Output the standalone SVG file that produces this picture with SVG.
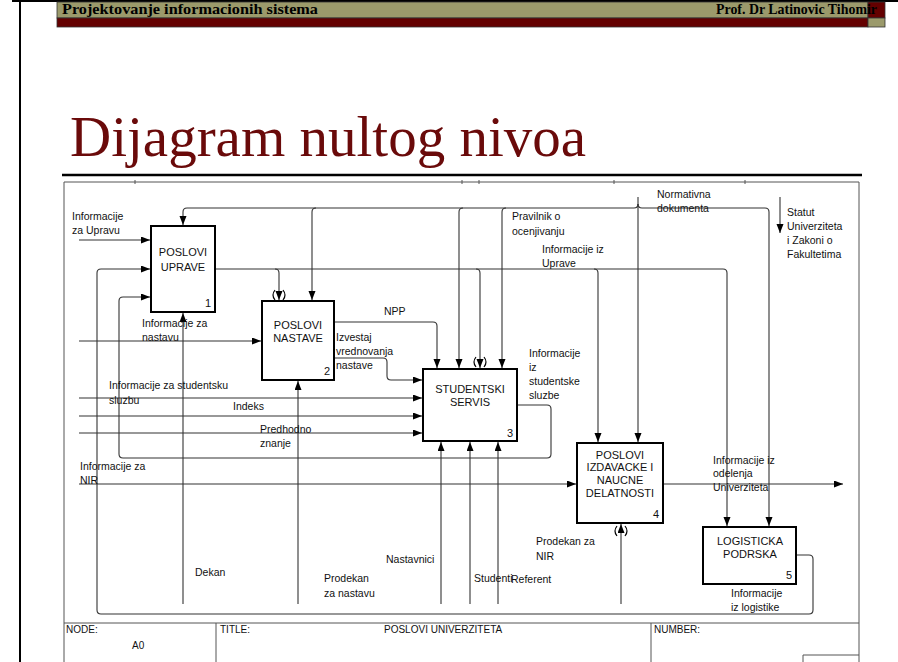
<svg xmlns="http://www.w3.org/2000/svg" width="898" height="662" viewBox="0 0 898 662">
  <defs>
    <marker id="arr" markerUnits="userSpaceOnUse" markerWidth="10" markerHeight="8" refX="9" refY="3.5" orient="auto">
      <path d="M0,0 L9,3.5 L0,7 z" fill="#000"/>
    </marker>
    <style>
      .hdr { font-family: "Liberation Serif", "Times New Roman", serif; font-weight: bold; font-size: 14px; fill: #000; }
      .title { font-family: "Liberation Serif", "Times New Roman", serif; font-size: 57px; fill: #6a0a0a; }
      .lbl { font-family: "Liberation Sans", Arial, sans-serif; font-size: 10.5px; fill: #111; }
      .box rect { fill: #fff; stroke: #000; stroke-width: 2; }
      .box text { font-family: "Liberation Sans", Arial, sans-serif; font-size: 11px; fill: #111; }
      .box .c { text-anchor: middle; }
      .box .n { text-anchor: end; }
      .con path { fill: none; stroke: #333; stroke-width: 1.1; }
      .con .a { marker-end: url(#arr); }
      .tun { fill: none; stroke: #000; stroke-width: 1.2; }
      .frame { fill: none; stroke: #555; stroke-width: 1; }
      .tbl { font-family: "Liberation Sans", Arial, sans-serif; font-size: 10px; fill: #111; }
    </style>
  </defs>

  <rect width="898" height="662" fill="#fff"/>

  <!-- slide border -->
  <path d="M12,1 H898 M20,1 V662" stroke="#000" stroke-width="2" fill="none"/>

  <!-- header band -->
  <g id="header">
    <rect x="57" y="2" width="811" height="16" fill="#9b9a6b" stroke="#333" stroke-width="0.8"/>
    <rect x="57" y="18" width="811" height="9" fill="#640000" stroke="#333" stroke-width="0.8"/>
    <rect x="868" y="2" width="17" height="16" fill="#640000" stroke="#333" stroke-width="0.8"/>
    <rect x="868" y="18" width="17" height="9" fill="#9b9a6b" stroke="#333" stroke-width="0.8"/>
    <text class="hdr" x="62" y="14" textLength="256" lengthAdjust="spacingAndGlyphs">Projektovanje informacionih sistema</text>
    <text class="hdr" x="716" y="14" textLength="161" lengthAdjust="spacingAndGlyphs">Prof. Dr Latinovic Tihomir</text>
  </g>

  <text class="title" x="70" y="156">Dijagram nultog nivoa</text>

  <!-- rule under the title -->
  <line x1="62" y1="175" x2="862" y2="175" stroke="#000" stroke-width="2.5"/>

  <!-- IDEF0 sheet frame -->
  <g id="frame">
    <path class="frame" d="M64,662 V182 H859 V662"/>
    <path class="frame" d="M135,180 V184 M462,180 V184 M479,180 V184 M614,180 V184 M745,180 V184"/>
    <path class="frame" d="M64,623 H859 M216,623 V662 M651,623 V662 M803,662 V655 H859"/>
    <text class="tbl" x="66" y="633">NODE:</text>
    <text class="tbl" x="132" y="649">A0</text>
    <text class="tbl" x="220" y="633">TITLE:</text>
    <text class="tbl" x="384" y="633">POSLOVI UNIVERZITETA</text>
    <text class="tbl" x="654" y="633">NUMBER:</text>
  </g>

  <!-- connectors -->
  <g id="connectors" class="con">
    <!-- Normativna dokumenta: trunk and branches -->
    <path class="a" d="M638,197 V442"/>
    <path class="a" d="M638,204 Q638,208 634,208 H187 Q183,208 183,212 V225"/>
    <path class="a" d="M638,204 Q638,208 642,208 H765 Q769,208 769,212 V526"/>
    <path class="a" d="M316,208 Q312,208 312,212 V300"/>
    <path class="a" d="M463,208 Q459,208 459,212 V368"/>
    <path class="a" d="M506,208 Q502,208 502,212 V368"/>

    <!-- Informacije iz Uprave -->
    <path class="a" d="M215,269 H723 Q727,269 727,273 V526"/>
    <path class="a" d="M275,269 Q279,269 279,273 V300"/>
    <path class="a" d="M476,269 Q480,269 480,273 V368"/>
    <path class="a" d="M594,269 Q598,269 598,273 V442"/>

    <!-- NPP -->
    <path class="a" d="M334,322 H433 Q437,322 437,326 V368"/>
    <!-- Izvestaj vrednovanja nastave -->
    <path class="a" d="M334,358 H383 Q387,358 387,362 V376 Q387,380 391,380 H422"/>

    <!-- external inputs -->
    <path class="a" d="M79,240 H150"/>
    <path class="a" d="M79,341 H261"/>
    <path class="a" d="M79,398 H422"/>
    <path class="a" d="M79,416 H422"/>
    <path class="a" d="M79,433 H422"/>
    <path class="a" d="M79,484 H576"/>

    <!-- Informacije iz studentske sluzbe (feedback to box 1) -->
    <path class="a" d="M517,405 H547 Q551,405 551,409 V454 Q551,458 547,458 H123 Q119,458 119,454 V301 Q119,297 123,297 H150"/>
    <!-- Informacije iz logistike (feedback to box 1) -->
    <path class="a" d="M796,555 H809 Q813,555 813,559 V610 Q813,614 809,614 H101 Q97,614 97,610 V273 Q97,269 101,269 H150"/>

    <!-- Informacije iz odelenja Univerziteta -->
    <path class="a" d="M663,484 H843"/>
    <!-- Statut Univerziteta i Zakoni o Fakultetima -->
    <path class="a" d="M780,197 V233"/>

    <!-- mechanisms -->
    <path class="a" d="M183,604 V313"/>
    <path class="a" d="M298,604 V381"/>
    <path class="a" d="M441,604 V442"/>
    <path class="a" d="M470,604 V442"/>
    <path class="a" d="M498,604 V442"/>
    <path class="a" d="M621,604 V524"/>
  </g>

  <!-- tunnel marks -->
  <g id="tunnels">
    <path class="tun" d="M275,290 Q271,295 275,300 M283,290 Q287,295 283,300"/>
    <path class="tun" d="M476,357 Q472,362 476,367 M484,357 Q488,362 484,367"/>
    <path class="tun" d="M617,526 Q613,531 617,536 M625,526 Q629,531 625,536"/>
  </g>

  <!-- activity boxes -->
  <g id="box1" class="box">
    <rect x="151" y="226" width="64" height="86"/>
    <text class="c" x="183" y="256">POSLOVI</text>
    <text class="c" x="183" y="271">UPRAVE</text>
    <text class="n" x="211" y="307">1</text>
  </g>
  <g id="box2" class="box">
    <rect x="262" y="301" width="72" height="79"/>
    <text class="c" x="298" y="329">POSLOVI</text>
    <text class="c" x="298" y="342">NASTAVE</text>
    <text class="n" x="330" y="375">2</text>
  </g>
  <g id="box3" class="box">
    <rect x="423" y="369" width="94" height="72"/>
    <text class="c" x="470" y="393">STUDENTSKI</text>
    <text class="c" x="470" y="406">SERVIS</text>
    <text class="n" x="513" y="437">3</text>
  </g>
  <g id="box4" class="box">
    <rect x="577" y="443" width="86" height="80"/>
    <text class="c" x="620" y="459">POSLOVI</text>
    <text class="c" x="620" y="471">IZDAVACKE I</text>
    <text class="c" x="620" y="484">NAUCNE</text>
    <text class="c" x="620" y="497">DELATNOSTI</text>
    <text class="n" x="659" y="518">4</text>
  </g>
  <g id="box5" class="box">
    <rect x="703" y="527" width="93" height="57"/>
    <text class="c" x="750" y="545">LOGISTICKA</text>
    <text class="c" x="750" y="558">PODRSKA</text>
    <text class="n" x="792" y="579">5</text>
  </g>

  <!-- connector labels -->
  <g id="labels" class="lbl">
    <text x="72" y="220">Informacije</text>
    <text x="72" y="234">za Upravu</text>
    <text x="657" y="198">Normativna</text>
    <text x="657" y="212">dokumenta</text>
    <text x="787" y="216">Statut</text>
    <text x="787" y="230">Univerziteta</text>
    <text x="787" y="244">i Zakoni o</text>
    <text x="787" y="258">Fakultetima</text>
    <text x="512" y="220">Pravilnik o</text>
    <text x="512" y="235">ocenjivanju</text>
    <text x="542" y="253">Informacije iz</text>
    <text x="542" y="267">Uprave</text>
    <text x="384" y="315">NPP</text>
    <text x="142" y="327">Informacije za</text>
    <text x="142" y="341">nastavu</text>
    <text x="336" y="341">Izvestaj</text>
    <text x="336" y="355">vrednovanja</text>
    <text x="336" y="369">nastave</text>
    <text x="529" y="357">Informacije</text>
    <text x="529" y="371">iz</text>
    <text x="529" y="385">studentske</text>
    <text x="529" y="399">sluzbe</text>
    <text x="109" y="389">Informacije za studentsku</text>
    <text x="109" y="404">sluzbu</text>
    <text x="233" y="410">Indeks</text>
    <text x="260" y="433">Predhodno</text>
    <text x="260" y="447">znanje</text>
    <text x="80" y="470">Informacije za</text>
    <text x="80" y="484">NIR</text>
    <text x="713" y="464">Informacije iz</text>
    <text x="713" y="477">odelenja</text>
    <text x="713" y="491">Univerziteta</text>
    <text x="536" y="545">Prodekan za</text>
    <text x="536" y="560">NIR</text>
    <text x="386" y="563">Nastavnici</text>
    <text x="195" y="576">Dekan</text>
    <text x="324" y="582">Prodekan</text>
    <text x="324" y="597">za nastavu</text>
    <text x="474" y="582">Studenti</text>
    <text x="511" y="583">Referent</text>
    <text x="731" y="597">Informacije</text>
    <text x="731" y="611">iz logistike</text>
  </g>
</svg>
